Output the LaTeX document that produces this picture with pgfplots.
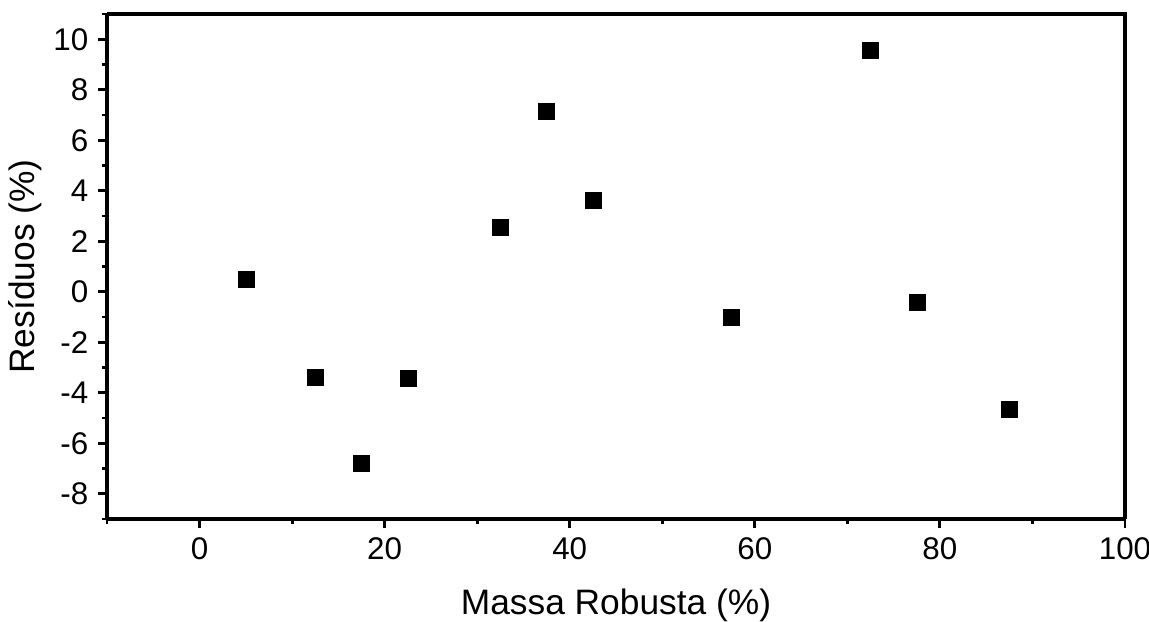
\documentclass[border=0pt]{standalone}
\usepackage{pgfplots}
\pgfplotsset{compat=1.18}
\usepackage{fontspec}
\setmainfont{Liberation Sans}
\begin{document}
\begin{tikzpicture}
\begin{axis}[
  scale only axis,
  width=763.5pt, height=378.75pt,
  xmin=-10, xmax=100, ymin=-9, ymax=11,
  xtick={0,20,...,100}, ytick={-8,-6,...,10},
  minor xtick={-10,10,30,50,70,90},
  minor ytick={-9,-7,...,11},
  axis x line*=bottom, axis y line*=left,
  tick align=outside,
  major tick length=6.5pt, minor tick length=4pt,
  tick style={line width=2.2pt, black},
  x axis line style={line width=2.4pt},
  y axis line style={line width=2.4pt},
  /pgf/number format/assume math mode=true,
  ticklabel style={font=\fontsize{23.5}{28}\selectfont},
  label style={font=\fontsize{26.5}{32}\selectfont},
  xlabel={Massa Robusta (\%)},
  ylabel={Resíduos (\%)},
  xlabel style={yshift=-15pt},
  ylabel style={yshift=2pt},
  xticklabel style={yshift=-4pt},
  yticklabel style={xshift=-4pt},
  clip=false,
]
\addplot[only marks, mark=square*, mark size=6pt, black] coordinates {
(5,0.48) (12.5,-3.4) (17.5,-6.78) (22.5,-3.44) (32.5,2.55) (37.5,7.15)
(42.5,3.61) (57.5,-1.02) (72.5,9.56) (77.5,-0.4) (87.5,-4.67)
};
\draw[line width=2.4pt] (rel axis cs:0,1) -- (rel axis cs:1,1) -- (rel axis cs:1,0);
\end{axis}
\pgfresetboundingbox
\path[use as bounding box] ([shift={(-80.25pt,-76.5pt)}]current axis.south west) rectangle ([shift={(18pt,10.5pt)}]current axis.north east);
\end{tikzpicture}
\end{document}
